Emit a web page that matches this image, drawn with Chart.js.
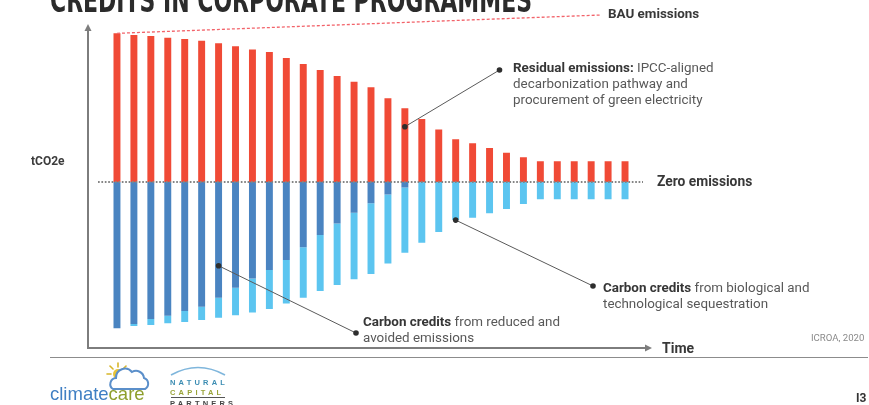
<!DOCTYPE html>
<html>
<head>
<meta charset="utf-8">
<script src="https://cdn.jsdelivr.net/npm/chart.js@4/dist/chart.umd.min.js"></script>
<style>
  html, body { margin: 0; padding: 0; background: #fff; }
  #wrap { position: relative; width: 869px; height: 405px; overflow: hidden; background: #fff;
          font-family: Roboto, "Noto Sans", "Liberation Sans", sans-serif; }
  #chart { position: absolute; left: 0; top: 0; }
  .t { position: absolute; white-space: nowrap; font-size: 13.4px; line-height: 16px; color: #585858; }
  .t b { color: #363636; font-weight: 700; }
  .lbl { position: absolute; white-space: nowrap; font-weight: 700; color: #383838; }
  #title { position: absolute; left: 50px; top: -17px; white-space: nowrap; font-size: 34px; line-height: 34px;
           font-weight: 700; color: #2b2b2b; transform-origin: 0 0;
           font-family: "Liberation Sans Narrow", "DejaVu Sans Condensed", "Roboto Condensed", sans-serif; }
  .ncp { position: absolute; left: 170px; width: 56px; font-size: 7.5px; line-height: 8px; font-weight: 700;
         letter-spacing: 3.2px; font-family: "Liberation Sans", Arial, sans-serif; }
</style>
</head>
<body>
<div id="wrap">
  <canvas id="chart" width="869" height="405"></canvas>

  <div id="title">CREDITS IN CORPORATE PROGRAMMES</div>

  <div class="lbl" style="left:608px;top:6px;font-size:13.4px;line-height:16px;">BAU emissions</div>
  <div class="t" style="left:513px;top:60px;"><b>Residual emissions:</b> IPCC-aligned<br>decarbonization pathway and<br>procurement of green electricity</div>
  <div class="lbl" style="left:31px;top:153px;font-size:12px;line-height:16px;color:#3c3c3c;">tCO2e</div>
  <div class="lbl" style="left:657px;top:173px;font-size:13.8px;line-height:16px;">Zero emissions</div>
  <div class="t" style="left:603px;top:280px;"><b>Carbon credits</b> from biological and<br>technological sequestration</div>
  <div class="t" style="left:363px;top:314px;"><b>Carbon credits</b> from reduced and<br>avoided emissions</div>
  <div class="lbl" style="left:662px;top:340px;font-size:14px;line-height:16px;">Time</div>
  <div class="t" style="left:811px;top:332px;font-size:9.6px;line-height:12px;color:#8a8a8a;">ICROA, 2020</div>
  <div class="lbl" style="left:856px;top:391px;font-size:12px;line-height:14px;color:#333;">I3</div>

  <!-- ClimateCare logo -->
  <svg style="position:absolute;left:104px;top:360px;" width="46" height="34" viewBox="0 0 46 34">
    <g stroke="#d8b62a" stroke-width="1.6" stroke-linecap="round">
      <line x1="14" y1="3" x2="14" y2="7"/>
      <line x1="6" y1="6" x2="9" y2="9"/>
      <line x1="3" y1="14" x2="7" y2="14"/>
      <line x1="22" y1="6" x2="19" y2="9"/>
    </g>
    <circle cx="14" cy="14" r="5" fill="#e8c43a"/>
    <path d="M9 29 a6 6 0 0 1 3 -11 a9 9 0 0 1 16 -6 a8 8 0 0 1 12 6 a6 6 0 0 1 1 11 z"
          fill="#fff" stroke="#5b8fca" stroke-width="2"/>
  </svg>
  <div style="position:absolute;left:50px;top:384px;font-size:18.5px;line-height:20px;font-family:'Liberation Sans',Arial,sans-serif;">
    <span style="color:#3f7fc3;">climate</span><span style="color:#8e9f2c;">care</span>
  </div>

  <!-- Natural Capital Partners logo -->
  <svg style="position:absolute;left:168px;top:362px;" width="60" height="16" viewBox="0 0 60 16">
    <path d="M3 13 Q30 -2 57 13" fill="none" stroke="#7fb6dc" stroke-width="1.6"/>
  </svg>
  <div class="ncp" style="top:379px;color:#3c8db3;">NATURAL</div>
  <div class="ncp" style="top:389px;color:#9aa43a;">CAPITAL</div>
  <div style="position:absolute;left:171px;top:397px;width:54px;height:1px;background:#555;"></div>
  <div class="ncp" style="top:400px;color:#444;">PARTNERS</div>
</div>

<script>
// Time periods along the horizontal axis
const periods = ['1','2','3','4','5','6','7','8','9','10','11','12','13','14','15','16',
                 '17','18','19','20','21','22','23','24','25','26','27','28','29','30','31'];

// Residual emissions above the zero line (tCO2e, indexed so period 1 = 100)
const residual = [100, 98.9, 98.2, 97.0, 96.2, 95.0, 93.3, 91.3, 89.2, 87.4, 83.4, 79.4, 75.3, 71.3, 67.5, 63.7,
                  56.3, 49.6, 42.4, 35.4, 28.7, 26.0, 22.9, 19.7, 16.6, 13.9, 13.9, 13.9, 13.9, 13.9, 13.9];

// Credits from reduced and avoided emissions (drawn below zero)
const avoided = [98.4, 95.5, 92.1, 89.9, 86.8, 83.9, 77.8, 71.1, 64.8, 59.2, 52.5, 43.9, 35.6, 27.8, 20.6, 14.3,
                 8.3, 3.6, 0, 0, 0, 0, 0, 0, 0, 0, 0, 0, 0, 0, 0];

// Credits from biological and technological sequestration (drawn below the avoided credits)
const sequestration = [0, 1.3, 4.0, 5.1, 7.4, 8.9, 13.4, 18.4, 22.9, 26.2, 29.1, 33.9, 37.7, 41.5, 44.8, 47.5,
                       46.4, 44.0, 40.8, 33.6, 25.6, 24.0, 21.0, 18.2, 14.8, 11.6, 11.6, 11.6, 11.6, 11.6, 11.6];

// Business-as-usual trend: [period index, value] at each end
const bauIndex = [0, 28.5];
const bauValue = [100, 112.3];

// Callout anchors on the bars: [period index, value]
const residualAnchor = [17, 37.2];
const avoidedAnchor = [6, -56.3];
const sequestrationAnchor = [20, -(avoided[20] + sequestration[20])];

const COLORS = { residual: '#f04a36', avoided: '#4a84c1', sequestration: '#5cc5f0' };

function dot(ctx, x, y) {
  ctx.beginPath();
  ctx.arc(x, y, 2.8, 0, Math.PI * 2);
  ctx.fillStyle = '#2e2e2e';
  ctx.fill();
}

function leader(ctx, x1, y1, x2, y2) {
  ctx.save();
  ctx.strokeStyle = '#5a5a5a';
  ctx.lineWidth = 1;
  ctx.beginPath();
  ctx.moveTo(x1, y1);
  ctx.lineTo(x2, y2);
  ctx.stroke();
  dot(ctx, x1, y1);
  dot(ctx, x2, y2);
  ctx.restore();
}

const decorations = {
  id: 'decorations',
  beforeDatasetsDraw(chart) {
    const { ctx, chartArea: a } = chart;
    const ax = a.left - 20.5, ay = a.bottom;
    const tipTop = a.top - 1, tipRight = a.right + 18.5;
    ctx.save();
    ctx.strokeStyle = '#7d7d7d';
    ctx.fillStyle = '#7d7d7d';
    ctx.lineWidth = 2;
    ctx.beginPath();
    ctx.moveTo(ax, tipTop + 5);
    ctx.lineTo(ax, ay);
    ctx.lineTo(tipRight - 5, ay);
    ctx.stroke();
    // arrow heads
    ctx.beginPath();
    ctx.moveTo(ax, tipTop);
    ctx.lineTo(ax - 3.5, tipTop + 7);
    ctx.lineTo(ax + 3.5, tipTop + 7);
    ctx.closePath();
    ctx.fill();
    ctx.beginPath();
    ctx.moveTo(tipRight, ay);
    ctx.lineTo(tipRight - 7, ay - 3.5);
    ctx.lineTo(tipRight - 7, ay + 3.5);
    ctx.closePath();
    ctx.fill();
    // footer separator
    ctx.strokeStyle = '#8c8c8c';
    ctx.lineWidth = 1;
    ctx.beginPath();
    ctx.moveTo(50, ay + 9.5);
    ctx.lineTo(868, ay + 9.5);
    ctx.stroke();
    ctx.restore();
  },
  afterDatasetsDraw(chart) {
    const { ctx, chartArea: a } = chart;
    const xs = chart.scales.x, ys = chart.scales.y;
    const y0 = ys.getPixelForValue(0);
    ctx.save();
    // zero emissions line
    ctx.strokeStyle = '#858585';
    ctx.lineWidth = 2;
    ctx.setLineDash([1.7, 1.7]);
    ctx.beginPath();
    ctx.moveTo(a.left - 10.5, y0);
    ctx.lineTo(a.right + 9.5, y0);
    ctx.stroke();
    // BAU trend
    ctx.strokeStyle = '#f2636a';
    ctx.lineWidth = 1.3;
    ctx.setLineDash([3, 2]);
    ctx.beginPath();
    ctx.moveTo(xs.getPixelForValue(bauIndex[0]), ys.getPixelForValue(bauValue[0]));
    ctx.lineTo(xs.getPixelForValue(bauIndex[1]), ys.getPixelForValue(bauValue[1]));
    ctx.stroke();
    ctx.setLineDash([]);
    ctx.restore();
    // callouts
    leader(ctx, xs.getPixelForValue(residualAnchor[0]), ys.getPixelForValue(residualAnchor[1]), 499.5, 70);
    leader(ctx, xs.getPixelForValue(sequestrationAnchor[0]), ys.getPixelForValue(sequestrationAnchor[1]), 593, 286);
    leader(ctx, xs.getPixelForValue(avoidedAnchor[0]), ys.getPixelForValue(avoidedAnchor[1]), 356, 333);
  }
};

new Chart(document.getElementById('chart'), {
  type: 'bar',
  data: {
    labels: periods,
    datasets: [
      { label: 'Residual emissions', data: residual, backgroundColor: COLORS.residual },
      { label: 'Carbon credits from reduced and avoided emissions', data: avoided.map(v => -v), backgroundColor: COLORS.avoided },
      { label: 'Carbon credits from biological and technological sequestration', data: sequestration.map(v => -v), backgroundColor: COLORS.sequestration }
    ]
  },
  options: {
    responsive: false,
    animation: false,
    events: [],
    layout: { padding: { left: 108.5, right: 235.5, top: 25, bottom: 57 } },
    datasets: { bar: { categoryPercentage: 1, barPercentage: 0.41, borderWidth: 0, borderSkipped: false } },
    plugins: { legend: { display: false }, tooltip: { enabled: false } },
    scales: {
      x: { stacked: true, display: false },
      y: { stacked: true, display: false, min: -111.6, max: 105.6 }
    }
  },
  plugins: [decorations]
});

// fit the heading to its band
const title = document.getElementById('title');
const w = title.getBoundingClientRect().width;
title.style.transform = 'scaleX(' + (482 / w) + ')';
</script>
</body>
</html>
